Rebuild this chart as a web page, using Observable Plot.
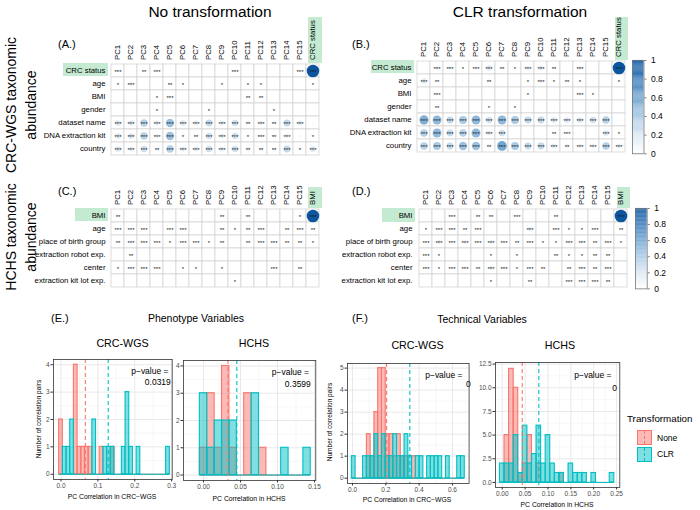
<!DOCTYPE html>
<html><head><meta charset="utf-8">
<script src="https://cdn.jsdelivr.net/npm/d3@7"></script>
<script src="https://cdn.jsdelivr.net/npm/@observablehq/plot@0.6"></script>
<style>
html,body{margin:0;padding:0;background:#fff}
#root{position:relative;width:700px;height:510px;overflow:hidden;font-family:"Liberation Sans",Arial,sans-serif;background:#fff}
.lbl{position:absolute;white-space:nowrap;line-height:1;color:#000}
.box{position:absolute;background:#c4ead2}
</style></head>
<body><div id="root"></div>
<script>
// ---------------- DATA ----------------
const pcs = ["PC1","PC2","PC3","PC4","PC5","PC6","PC7","PC8","PC9","PC10","PC11","PC12","PC13","PC14","PC15"];
const crcCols = [...pcs, "CRC status"];
const hchsCols = [...pcs, "BMI"];
const crcRows = ["CRC status","age","BMI","gender","dataset name","DNA extraction kit","country"];
const hchsRows = ["BMI","age","place of birth group","extraction robot exp.","center","extraction kit lot exp."];

// Panel A: CRC-WGS, no transformation (|correlation| per cell)
const aValues = [
 [0.08,0.03,0.05,0.07,0,0,0,0,0.02,0.07,0,0,0,0,0.08,1],
 [0.04,0.1,0,0,0.05,0.04,0,0,0.04,0,0.04,0.04,0,0,0,0.04],
 [0,0,0,0.04,0.07,0,0,0.02,0.02,0,0.06,0.06,0.02,0.02,0,0],
 [0,0,0,0.04,0,0.02,0.02,0.04,0.02,0,0.02,0,0.04,0.02,0,0.02],
 [0.2,0.18,0.35,0.15,0.45,0.2,0.15,0.3,0.15,0.25,0.1,0.12,0.1,0.3,0.15,0.05],
 [0.2,0.2,0.35,0.12,0.45,0.05,0.07,0.25,0.15,0.25,0.05,0.1,0.07,0.12,0.06,0.04],
 [0.2,0.15,0.25,0.1,0.35,0.15,0.15,0.25,0.15,0.25,0.1,0.1,0.1,0.3,0.08,0.2]
];
const aStars = [
 ["***","","**","***","","","","","","***","","","","","***","***"],
 ["*","***","","","**","*","","","*","","*","*","","","","*"],
 ["","","","*","***","","","","","","**","**","","","",""],
 ["","","","*","","","","*","","","","","*","","",""],
 ["***","***","***","***","***","***","***","***","***","***","**","***","**","***","***",""],
 ["***","***","***","***","***","*","**","***","***","***","*","***","**","***","","*"],
 ["***","***","***","**","***","***","***","***","***","***","**","**","**","***","*","***"]
];
// Panel B: CRC-WGS, CLR transformation
const bValues = [
 [0,0.1,0.1,0.04,0.1,0.18,0.07,0.04,0.12,0.15,0.07,0,0.12,0,0,1],
 [0.18,0.06,0.03,0.03,0,0.08,0,0.02,0.04,0.1,0.04,0.07,0.04,0.02,0,0.04],
 [0,0.08,0,0,0,0.03,0,0,0.04,0,0,0,0.08,0.04,0.03,0],
 [0,0.05,0,0,0,0.04,0,0.04,0,0,0,0,0,0,0,0.02],
 [0.55,0.5,0.3,0.4,0.5,0.25,0.5,0.4,0.3,0.3,0.2,0.2,0.2,0.25,0.35,0.06],
 [0.35,0.5,0.3,0.35,0.5,0.15,0.25,0.03,0,0.04,0.06,0.08,0.04,0,0.2,0.03],
 [0.35,0.4,0.3,0.45,0.45,0.1,0.6,0.4,0.3,0.3,0.15,0.1,0.12,0.12,0.35,0.15]
];
const bStars = [
 ["","***","***","*","***","***","**","*","***","***","**","","***","","","***"],
 ["***","**","","","","**","","","*","***","*","**","*","","","*"],
 ["","***","","","","","","","*","","","","***","*","",""],
 ["","**","","","","*","","*","","","","","","","",""],
 ["***","***","***","***","***","***","***","***","***","***","***","***","***","***","***",""],
 ["***","***","***","***","***","***","***","","","","**","***","","","***","*"],
 ["***","***","***","***","***","**","***","***","***","***","***","**","***","***","***","***"]
];
// Panel C: HCHS, no transformation
const cValues = [
 [0.03,0,0,0.02,0,0.02,0,0,0.03,0,0.03,0,0,0.01,0.02,1],
 [0.04,0.04,0.04,0,0.04,0.04,0.02,0,0.03,0.02,0.03,0.04,0,0.03,0.04,0.03],
 [0.03,0.06,0.04,0.04,0.02,0.04,0.04,0.02,0.03,0.02,0.03,0.05,0.04,0.03,0.03,0.03],
 [0,0.03,0,0,0,0,0,0,0,0,0,0,0.02,0,0,0],
 [0.02,0.05,0.04,0.04,0,0.02,0.02,0,0.02,0.02,0.02,0.02,0.04,0,0.03,0],
 [0,0,0,0,0,0,0,0,0,0.02,0,0,0,0,0,0]
];
const cStars = [
 ["**","","","","","","","","**","","**","","","","*","***"],
 ["***","***","***","","***","***","","","**","*","**","***","","**","***","**"],
 ["**","***","***","***","*","***","***","*","**","","**","***","***","**","**","*"],
 ["","**","","","","","","","","","","","","","",""],
 ["*","***","***","***","","*","*","","*","","","","***","","**",""],
 ["","","","","","","","","","*","","","","","",""]
];
// Panel D: HCHS, CLR transformation
const dValues = [
 [0,0,0.04,0,0.03,0.03,0,0.04,0,0,0.03,0,0,0,0,1],
 [0.02,0.04,0.06,0.03,0.04,0,0,0,0.12,0,0.04,0.02,0.02,0.04,0,0.03],
 [0.06,0.12,0.05,0.1,0.04,0.1,0.06,0.03,0.05,0.02,0.02,0.08,0.08,0.03,0.06,0.02],
 [0.04,0.02,0.02,0.02,0,0.02,0,0.02,0,0,0.03,0.02,0.02,0.03,0.03,0],
 [0.06,0.02,0.04,0.08,0.03,0.12,0.06,0.02,0.04,0.03,0,0.03,0.06,0.03,0.05,0],
 [0,0,0,0,0,0.02,0,0,0.03,0,0,0.04,0.04,0.04,0.03,0]
];
const dStars = [
 ["","","***","","**","**","","***","","","**","","","","","***"],
 ["*","***","***","**","***","","","","***","","***","*","*","***","","**"],
 ["***","***","***","***","***","***","***","**","***","*","*","***","***","**","***","*"],
 ["***","*","","","","*","","*","","","**","*","*","**","**",""],
 ["***","*","***","***","**","***","***","*","***","**","","**","***","**","***",""],
 ["","","","","","*","","","**","","","***","***","***","**",""]
];
const colorbarTicks = [0,0.2,0.4,0.6,0.8,1];

// Histograms: counts per bin (first bin centre, bin width), None vs CLR
const eCrcStart = 0, eCrcWidth = 0.01;
const eCrcNone = [2,0,0,0,4,1,1,1,1,0,0,1,0,0,1,0,0,0,0,0,0,0,0,0,0,0,0,0,0,0];
const eCrcClr  = [0,1,1,2,0,0,0,0,0,2,0,0,1,1,1,0,0,1,3,1,0,1,0,0,0,0,0,0,0,1];
const eCrcMeans = [0.066, 0.128];
const eCrcP = "0.0319";

const eHchsStart = 0, eHchsWidth = 0.01;
const eHchsNone = [1,3,1,4,1,0,3,0,1,0,0,0,0,0,0];
const eHchsClr  = [3,1,2,2,2,0,0,3,0,0,0,1,0,0,1];
const eHchsMeans = [0.033, 0.045];
const eHchsP = "0.3599";

const fCrcStart = 0.0073, fCrcWidth = 0.0226;
const fCrcNone = [0,0,0,0,2,1,3,5,5,2,2,1,2,1,1,0,1,0,0,0,0,0,0,0,0,0,0,0,0,0];
const fCrcClr  = [1,0,0,1,1,1,2,1,2,1,1,2,1,1,2,1,0,1,1,0,1,1,1,1,0,1,0,0,1,1];
const fCrcMeans = [0.205, 0.344];
const fCrcP = "0";

const fHchsStart = 0, fHchsWidth = 0.01;
const fHchsNone = [0,5,12,10,1,2,5,0,2,0,0,0,0,1,0,0,0,0,0,0,0,0,0,0,0];
const fHchsClr  = [2,2,2,5,1,6,2,3,6,2,5,2,1,1,0,2,1,1,1,0,1,0,0,0,1];
const fHchsMeans = [0.0437, 0.080];
const fHchsP = "0";

const groups = ["None","CLR"];

// ---------------- HELPERS ----------------
const root = document.getElementById("root");
const FONT = '"Liberation Sans", Arial, sans-serif';
const RED = "#F8766D", TEAL = "#00BFC4";
const ramp = d3.scaleLinear().domain([0,0.2,0.4,0.6,0.8,1])
  .range(["#ffffff","#dbe8f4","#abcae4","#73a6d0","#3c7dbb","#0c559f"]);

function put(el, x, y){ el.style.position="absolute"; el.style.left=x+"px"; el.style.top=y+"px"; root.appendChild(el); return el; }
function text(t, x, y, o={}){
  const d=document.createElement("div"); d.className="lbl"; d.textContent=t;
  const size=o.size||11, rot=o.rotate||0, anchor=o.anchor||"middle";
  const tx = anchor==="middle"?-50:anchor==="end"?-100:0;
  d.style.fontSize=size+"px"; d.style.left=x+"px"; d.style.top=y+"px";
  if(o.color) d.style.color=o.color;
  d.style.transform=`translate(${tx}%,-50%) rotate(${rot}deg)`;
  root.appendChild(d); return d;
}
function box(x0,y0,x1,y1){ const d=document.createElement("div"); d.className="box";
  d.style.left=x0+"px"; d.style.top=y0+"px"; d.style.width=(x1-x0)+"px"; d.style.height=(y1-y0)+"px"; root.appendChild(d); }

function corrplot(rows, cols, vals, stars, x0, y0, cw, ch){
  const mL=120, mT=60, mR=2, mB=2;
  const w=cw*cols.length, h=ch*rows.length;
  const cells=[];
  rows.forEach((r,i)=>cols.forEach((c,j)=>cells.push({r,c,v:vals[i][j],s:stars[i][j]})));
  const p = Plot.plot({
    width:w+mL+mR, height:h+mT+mB, marginLeft:mL, marginTop:mT, marginRight:mR, marginBottom:mB,
    style:{background:"transparent", overflow:"visible", fontFamily:FONT, fontSize:"7.8px", color:"#000"},
    x:{type:"band", domain:cols, padding:0, axis:"top", tickSize:0, tickRotate:-90, tickPadding:3.5, label:null},
    y:{type:"band", domain:rows, padding:0, tickSize:0, tickPadding:3, label:null},
    r:{type:"sqrt", domain:[0,1], range:[0, cw*0.47]},
    marks:[
      Plot.cell(cells,{x:"c", y:"r", fill:"white", stroke:"#cfcfcf", strokeWidth:0.7}),
      Plot.dot(cells,{x:"c", y:"r", r:"v", fill:d=>ramp(d.v), stroke:null}),
      Plot.text(cells,{x:"c", y:"r", text:"s", fontSize:6, fill:"#1a1a1a", dy:1.5})
    ]
  });
  put(p, x0-mL, y0-mT);
}

function colorbar(x0, y0, x1, y1){
  const mL=0, mR=20, mT=4, mB=4;
  const steps = d3.range(0,1,0.01);
  const p = Plot.plot({
    width:(x1-x0)+mL+mR, height:(y1-y0)+mT+mB, marginLeft:mL, marginRight:mR, marginTop:mT, marginBottom:mB,
    style:{background:"transparent", overflow:"visible", fontFamily:FONT, fontSize:"8.5px", color:"#000"},
    x:{domain:[0,1], axis:null},
    y:{domain:[0,1], axis:null},
    marks:[
      Plot.rect(steps,{x1:0, x2:1, y1:d=>d, y2:d=>d+0.0105, fill:d=>ramp(d+0.005)}),
      Plot.frame({stroke:"#777", strokeWidth:0.8}),
      Plot.axisY(colorbarTicks,{anchor:"right", tickSize:2, tickPadding:5, tickFormat:d=>String(d), stroke:"#777"})
    ]
  });
  put(p, x0-mL, y0-mT);
}

function hist(o){
  const [x0,y0,x1,y1]=o.box;
  const mL=24, mR=14, mT=4, mB=14;
  const bins=(counts)=>counts.map((n,i)=>({x1:o.start+(i-0.5)*o.width, x2:o.start+(i+0.5)*o.width, n}));
  const nb=bins(o.none), cb=bins(o.clr);
  const p = Plot.plot({
    width:(x1-x0)+mL+mR, height:(y1-y0)+mT+mB, marginLeft:mL, marginRight:mR, marginTop:mT, marginBottom:mB,
    style:{background:"transparent", overflow:"visible", fontFamily:FONT, fontSize:"6.5px", color:"#4d4d4d"},
    x:{domain:o.xdom, axis:null}, y:{domain:o.ydom, axis:null},
    marks:[
      Plot.frame({fill:"white"}),
      Plot.gridX(o.xminor,{stroke:"#efefef", strokeOpacity:1, strokeWidth:0.5}),
      Plot.gridY(o.yminor,{stroke:"#efefef", strokeOpacity:1, strokeWidth:0.5}),
      Plot.gridX(o.xticks,{stroke:"#e6e6e6", strokeOpacity:1, strokeWidth:0.9}),
      Plot.gridY(o.yticks,{stroke:"#e6e6e6", strokeOpacity:1, strokeWidth:0.9}),
      Plot.rect(nb.filter(d=>d.n>0),{x1:"x1", x2:"x2", y1:0, y2:"n", fill:RED, fillOpacity:0.5, stroke:RED, strokeWidth:1.1}),
      Plot.ruleY(nb,{x1:"x1", x2:"x2", y:0, stroke:RED, strokeWidth:1.1}),
      Plot.rect(cb.filter(d=>d.n>0),{x1:"x1", x2:"x2", y1:0, y2:"n", fill:TEAL, fillOpacity:0.5, stroke:TEAL, strokeWidth:1.1}),
      Plot.ruleY(cb,{x1:"x1", x2:"x2", y:0, stroke:TEAL, strokeWidth:1.1}),
      Plot.ruleX([o.means[0]],{stroke:RED, strokeWidth:1.1, strokeDasharray:"4,3"}),
      Plot.ruleX([o.means[1]],{stroke:TEAL, strokeWidth:1.1, strokeDasharray:"4,3"}),
      Plot.text(["p−value ="],{frameAnchor:"top-right", dx:o.pdx[0], dy:o.pdy[0], fontSize:8.5, fill:"#000", textAnchor:"end"}),
      Plot.text([o.p],{frameAnchor:"top-right", dx:o.pdx[1], dy:o.pdy[1], fontSize:8.5, fill:"#000", textAnchor:"end"}),
      Plot.frame({stroke:"#333", strokeWidth:0.8}),
      Plot.axisX(o.xticks,{tickSize:2.5, tickPadding:1.5, tickFormat:o.xfmt, label:null, stroke:"#333"}),
      Plot.axisY(o.yticks,{tickSize:2.5, tickPadding:1.5, tickFormat:o.yfmt, label:null, stroke:"#333"})
    ]
  });
  put(p, x0-mL, y0-mT);
}

// ---------------- TITLES ----------------
text("No transformation", 210, 12, {size:15.5});
text("CLR transformation", 520, 12, {size:15.5});
text("CRC-WGS taxonomic", 11, 105, {size:14, rotate:-90});
text("abundance", 31, 105, {size:14, rotate:-90});
text("HCHS taxonomic", 11, 237, {size:14, rotate:-90});
text("abundance", 31, 237, {size:14, rotate:-90});
text("(A.)", 58, 44, {size:11, anchor:"start"});
text("(B.)", 352, 44, {size:11, anchor:"start"});
text("(C.)", 58, 191, {size:11, anchor:"start"});
text("(D.)", 352, 191, {size:11, anchor:"start"});

// highlight boxes (behind corrplots)
box(63, 62.7, 107.5, 76);      // A row
box(308.4, 17, 321.7, 62.7);   // A col
box(371, 60, 413.5, 73.3);     // B row
box(614.9, 17, 628.3, 60);     // B col
box(75, 207.7, 107.5, 221);    // C row
box(308.4, 187, 321.7, 207.7); // C col
box(382, 208.3, 414.5, 221.7); // D row
box(616.5, 187, 630, 208.3);   // D col

corrplot(crcRows, crcCols, aValues, aStars, 108.3, 62.7, 13.33, 13.3);
corrplot(crcRows, crcCols, bValues, bStars, 414.3, 60, 13.37, 13.33);
corrplot(hchsRows, hchsCols, cValues, cStars, 108.3, 207.7, 13.33, 13.33);
corrplot(hchsRows, hchsCols, dValues, dStars, 415, 208.3, 13.44, 13.4);
colorbar(632, 60, 643.5, 153.3);
colorbar(635, 208.3, 646.7, 288.7);

// ---------------- HISTOGRAMS ----------------
text("(E.)", 51, 317.5, {size:11, anchor:"start"});
text("Phenotype Variables", 196, 317.5, {size:10.5});
text("(F.)", 352, 317.5, {size:11, anchor:"start"});
text("Technical Variables", 482, 319, {size:10.5});
text("CRC-WGS", 122.5, 343, {size:10.7});
text("HCHS", 254, 343, {size:10.7});
text("CRC-WGS", 417.5, 345, {size:10.7});
text("HCHS", 560, 345, {size:10.7});

hist({box:[53,359,171.7,479], xdom:[-0.0203,0.3014], ydom:[-0.19,4.19],
  xticks:[0,0.1,0.2,0.3], xminor:[0.05,0.15,0.25], yticks:[0,1,2,3,4], yminor:[0.5,1.5,2.5,3.5],
  xfmt:d3.format(".1f"), yfmt:d3.format("d"),
  start:eCrcStart, width:eCrcWidth, none:eCrcNone, clr:eCrcClr, means:eCrcMeans, p:eCrcP,
  pdx:[-3.7,-1.4], pdy:[8.5,19]});
hist({box:[182.7,360,315,480], xdom:[-0.0271,0.1518], ydom:[-0.2,4.2],
  xticks:[0,0.05,0.1,0.15], xminor:[0.025,0.075,0.125], yticks:[0,1,2,3,4], yminor:[0.5,1.5,2.5,3.5],
  xfmt:d3.format(".2f"), yfmt:d3.format("d"),
  start:eHchsStart, width:eHchsWidth, none:eHchsNone, clr:eHchsClr, means:eHchsMeans, p:eHchsP,
  pdx:[-6.7,-5], pdy:[8.5,20]});
hist({box:[346.7,362.7,468.3,482.7], xdom:[-0.03,0.7], ydom:[-0.24,5.21],
  xticks:[0,0.2,0.4,0.6], xminor:[0.1,0.3,0.5], yticks:[0,1,2,3,4,5], yminor:[0.5,1.5,2.5,3.5,4.5],
  xfmt:d3.format(".1f"), yfmt:d3.format("d"),
  start:fCrcStart, width:fCrcWidth, none:fCrcNone, clr:fCrcClr, means:fCrcMeans, p:fCrcP,
  pdx:[-6.6,1.7], pdy:[8.3,17.3]});
hist({box:[495,361.7,619.3,486.7], xdom:[-0.0147,0.257], ydom:[-0.53,12.67],
  xticks:[0,0.05,0.1,0.15,0.2,0.25], xminor:[0.025,0.075,0.125,0.175,0.225], yticks:[0,2.5,5,7.5,10,12.5], yminor:[1.25,3.75,6.25,8.75,11.25],
  xfmt:d3.format(".2f"), yfmt:d3.format(".1f"),
  start:fHchsStart, width:fHchsWidth, none:fHchsNone, clr:fHchsClr, means:fHchsMeans, p:fHchsP,
  pdx:[-8.3,-2.8], pdy:[9.3,22]});

text("Number of correlation pairs", 39, 419, {size:6.5, rotate:-90, color:"#000"});
text("Number of correlation pairs", 330, 422, {size:6.5, rotate:-90, color:"#000"});
text("PC Correlation in CRC−WGS", 112, 497, {size:6.8});
text("PC Correlation in HCHS", 249, 499, {size:6.8});
text("PC Correlation in CRC−WGS", 407, 500, {size:6.8});
text("PC Correlation in HCHS", 557, 505, {size:6.8});

// ---------------- LEGEND ----------------
text("Transformation", 627, 419, {size:9.8, anchor:"start"});
[[groups[0], RED, 430],[groups[1], TEAL, 446.7]].forEach(([g,c,y])=>{
  const k=document.createElement("div");
  k.style.cssText=`position:absolute;left:636.7px;top:${y}px;width:13px;height:13px;border:1px solid ${c};background:${c}80;`;
  const dl=document.createElement("div");
  dl.style.cssText=`position:absolute;left:6px;top:0;width:0;height:13px;border-left:1px dashed ${c};`;
  k.appendChild(dl); root.appendChild(k);
  text(g, 657, y+7.5, {size:8.5, anchor:"start"});
});
</script>
</body></html>
